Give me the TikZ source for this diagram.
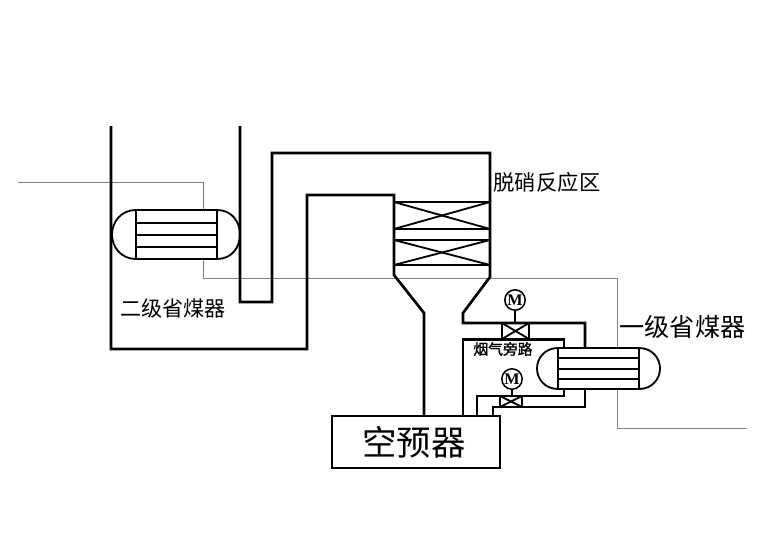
\documentclass[tikz,border=0pt]{standalone}
\usepackage{fontspec}
\setmainfont{Noto Sans CJK SC}
\newfontfamily\latinfont{Liberation Serif}
\newfontfamily\boldcjk[FakeBold=1.5]{Noto Sans CJK SC}
\usetikzlibrary{calc,positioning}
\tikzset{
  duct/.style={line width=1.9pt,line join=miter},
  water/.style={gray,line width=0.7pt},
  tag/.style={inner sep=0pt,outer sep=0pt},
  motor/.style={circle,draw,line width=1.1pt,minimum size=14.5pt,inner sep=0pt,font=\latinfont\bfseries\fontsize{11.5}{11.5}\selectfont}
}

\begin{document}
\begin{tikzpicture}[x=0.25mm,y=-0.25mm]
  \useasboundingbox (0,0) rectangle (779,547);
  % water lines
  \draw[water] (18,182) -- (203,182) -- (203,210);
  \draw[water] (203,259) -- (203,278) -- (617,278) -- (617,348);
  \draw[water] (617,390) -- (617,428) -- (747,428);
  % flue walls
  \draw[duct] (111,126) -- (111,349) -- (307,349) -- (307,195) -- (394,195) -- (394,275)
    -- (424,313) -- (424,416);
  \draw[duct] (240,126) -- (240,302) -- (272,302) -- (272,153) -- (490,153) -- (490,277)
    -- (463,313) -- (463,323) -- (585,323) -- (585,348);
  % catalyst layers
  \foreach \ya/\yb in {202/229,240/265} {
    \draw[duct] (394,\ya) -- (490,\ya);
    \draw[duct] (394,\yb) -- (490,\yb);
    \draw[line width=1.3pt] (394,\ya) -- (490,\yb);
    \draw[line width=1.3pt] (490,\ya) -- (394,\yb);
  }
  % bypass and outlet
  \draw[duct] (463,416) -- (463,339.4) -- (564,339.4) -- (564,348);
  \draw[duct] (564,389) -- (564,396) -- (477,396) -- (477,416);
  \draw[duct] (585,389) -- (585,407) -- (493,407) -- (493,416);
  % valves
  \foreach \xa/\xb/\ya/\yb in {502/529/323/339,500/522/396/407} {
    \draw[duct] (\xa,\ya) -- (\xa,\yb);
    \draw[duct] (\xb,\ya) -- (\xb,\yb);
    \draw[line width=1.3pt] (\xa,\ya) -- (\xb,\yb);
    \draw[line width=1.3pt] (\xb,\ya) -- (\xa,\yb);
  }
  \node[motor] (motorA) at (515,300) {M};
  \node[motor] (motorB) at (512,379) {M};
  \coordinate (valveA) at (515,323);
  \coordinate (valveB) at (512,396);
  \draw[line width=1.1pt] (motorA) -- (valveA);
  \draw[line width=1.1pt] (motorB) -- (valveB);
  % economizer 2
  \draw[duct,fill=white] (136,210) rectangle (217,259);
  \foreach \y in {223,235,247}
    \draw[duct] (136,\y) -- (217,\y);
  \draw[line width=1.3pt] (136,210) .. controls (121,210) and (112,222) .. (112,234.5)
    .. controls (112,247) and (121,259) .. (136,259);
  \draw[line width=1.3pt] (217,210) .. controls (232,210) and (240,222) .. (240,234.5)
    .. controls (240,247) and (232,259) .. (217,259);
  % economizer 1
  \draw[duct,fill=white] (558,348) rectangle (639,389);
  \foreach \y in {358,369,379}
    \draw[duct] (558,\y) -- (639,\y);
  \draw[line width=1.3pt] (558,348) .. controls (545,348) and (537,358) .. (537,368.5)
    .. controls (537,379) and (545,389) .. (558,389);
  \draw[line width=1.3pt] (639,348) .. controls (652,348) and (660,358) .. (660,368.5)
    .. controls (660,379) and (652,389) .. (639,389);
  % air preheater
  \node[draw,line width=1.9pt,fill=white,minimum width=119.5pt,minimum height=37pt,inner sep=0pt,
    font=\fontsize{24.5}{24.5}\selectfont] (kongyuqi) at (416,442) {\kern-3pt 空预器};
  % labels
  \node[tag,font=\fontsize{15.2}{15.2}\selectfont] (tuoxiao) at (547,182) {脱硝反应区};
  \node[tag,font=\fontsize{15}{15}\selectfont] (ecoB) at (173,308) {二级省煤器};
  \node[tag,font=\fontsize{17.9}{17.9}\selectfont] (ecoA) at (682.5,327) {一级省煤器};
  \node[tag,font=\boldcjk\fontsize{10.5}{10.5}\selectfont] (bypass) at (503,349) {烟气旁路};
\end{tikzpicture}
\end{document}
